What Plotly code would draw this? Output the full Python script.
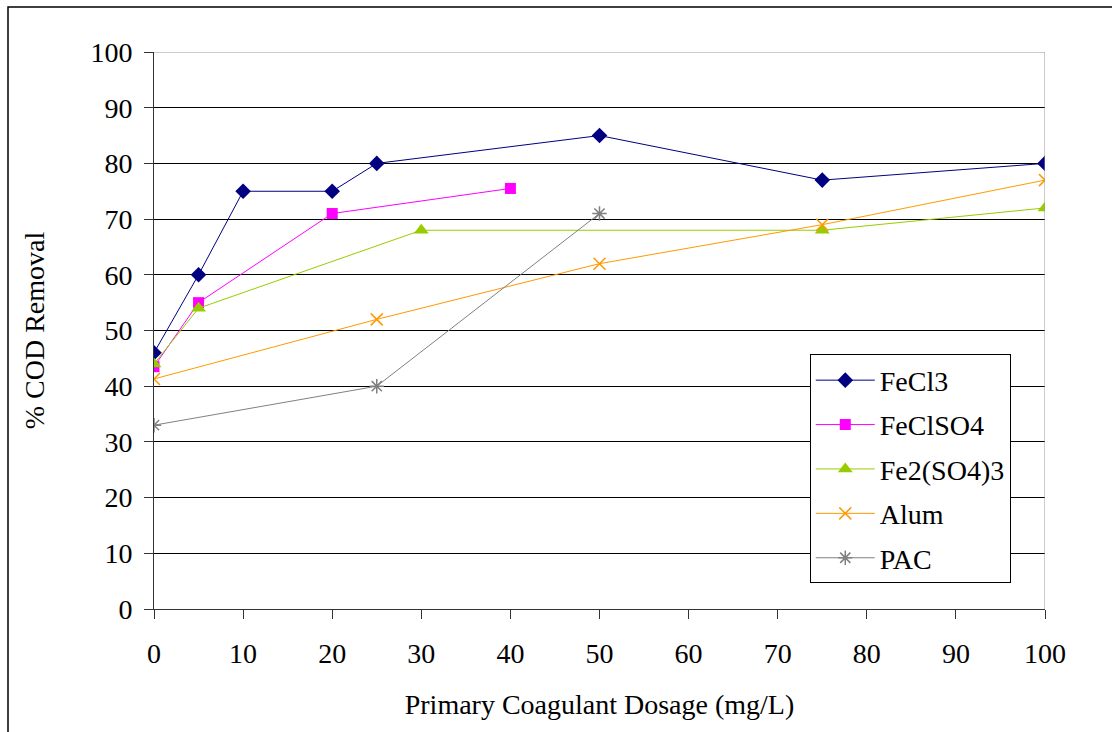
import plotly.graph_objects as go

fecl3_x = [0, 5, 10, 20, 25, 50, 75, 100]
fecl3_y = [46, 60, 75, 75, 80, 85, 77, 80]
feclso4_x = [0, 5, 20, 40]
feclso4_y = [43.5, 55, 71, 75.5]
fe2so43_x = [0, 5, 30, 75, 100]
fe2so43_y = [44, 54, 68, 68, 72]
alum_x = [0, 25, 50, 75, 100]
alum_y = [41.3, 52, 62, 69, 77]
pac_x = [0, 25, 50]
pac_y = [33, 40, 71]

x_ticks = list(range(0, 101, 10))
y_ticks = list(range(0, 101, 10))

FONT = "Liberation Serif, Times New Roman, serif"
FS = 28

series = [
    ("FeCl3", fecl3_x, fecl3_y, "#000080", "diamond", 12, None),
    ("FeClSO4", feclso4_x, feclso4_y, "#FF00FF", "square", 11, None),
    ("Fe2(SO4)3", fe2so43_x, fe2so43_y, "#99CC00", "triangle-up", 13, None),
    ("Alum", alum_x, alum_y, "#FF9900", "x-thin-open", 12, 1.5),
    ("PAC", pac_x, pac_y, "#808080", "asterisk-open", 12, 1.5),
]

fig = go.Figure()
for i, (name, xs, ys, col, sym, sz, lw) in enumerate(series):
    marker = dict(symbol=sym, size=sz, color=col)
    if lw:
        marker["line"] = dict(color=col, width=lw)
    else:
        marker["line"] = dict(width=0)
    fig.add_trace(go.Scatter(
        x=xs, y=ys, name=name, mode="lines+markers",
        line=dict(color=col, width=1), marker=marker,
        legendgroup=f"g{i}",
    ))

fig.update_layout(
    width=1112, height=732,
    margin=dict(l=154, r=67, t=52, b=123),
    paper_bgcolor="white", plot_bgcolor="white",
    font=dict(family=FONT, size=FS, color="black"),
    showlegend=True,
    legend=dict(
        x=0.736, y=0.457, xanchor="left", yanchor="top",
        bordercolor="black", borderwidth=1, bgcolor="white",
        font=dict(family=FONT, size=FS),
        tracegroupgap=5, itemwidth=59,
    ),
    xaxis=dict(
        range=[0, 100], tickvals=x_ticks, ticks="outside", ticklen=9,
        tickcolor="#333", showgrid=False, showline=True, linecolor="#333",
        linewidth=1, zeroline=False, ticklabelstandoff=10,
        title=dict(text="Primary Coagulant Dosage (mg/L)", standoff=26,
                   font=dict(family=FONT, size=FS)),
        tickfont=dict(family=FONT, size=FS),
    ),
    yaxis=dict(
        range=[0, 100], tickvals=y_ticks, ticks="outside", ticklen=9,
        tickcolor="#333", showgrid=True, gridcolor="#000", gridwidth=1,
        showline=True, linecolor="#333", linewidth=1, zeroline=False,
        ticklabelstandoff=6,
        title=dict(text="% COD Removal", standoff=37,
                   font=dict(family=FONT, size=FS)),
        tickfont=dict(family=FONT, size=FS),
    ),
    shapes=[
        dict(type="line", xref="x", yref="y", x0=0, x1=100, y0=100, y1=100,
             line=dict(color="#999", width=1), layer="above"),
        dict(type="line", xref="x", yref="y", x0=100, x1=100, y0=0, y1=100,
             line=dict(color="#999", width=1), layer="above"),
        dict(type="rect", xref="paper", yref="paper",
             x0=(8 - 154) / 891, x1=(1120 - 154) / 891,
             y0=(609.5 - 740) / 557.5, y1=(609.5 - 7) / 557.5,
             line=dict(color="black", width=1.5), fillcolor="rgba(0,0,0,0)"),
    ],
)

fig.write_html("out.html")
